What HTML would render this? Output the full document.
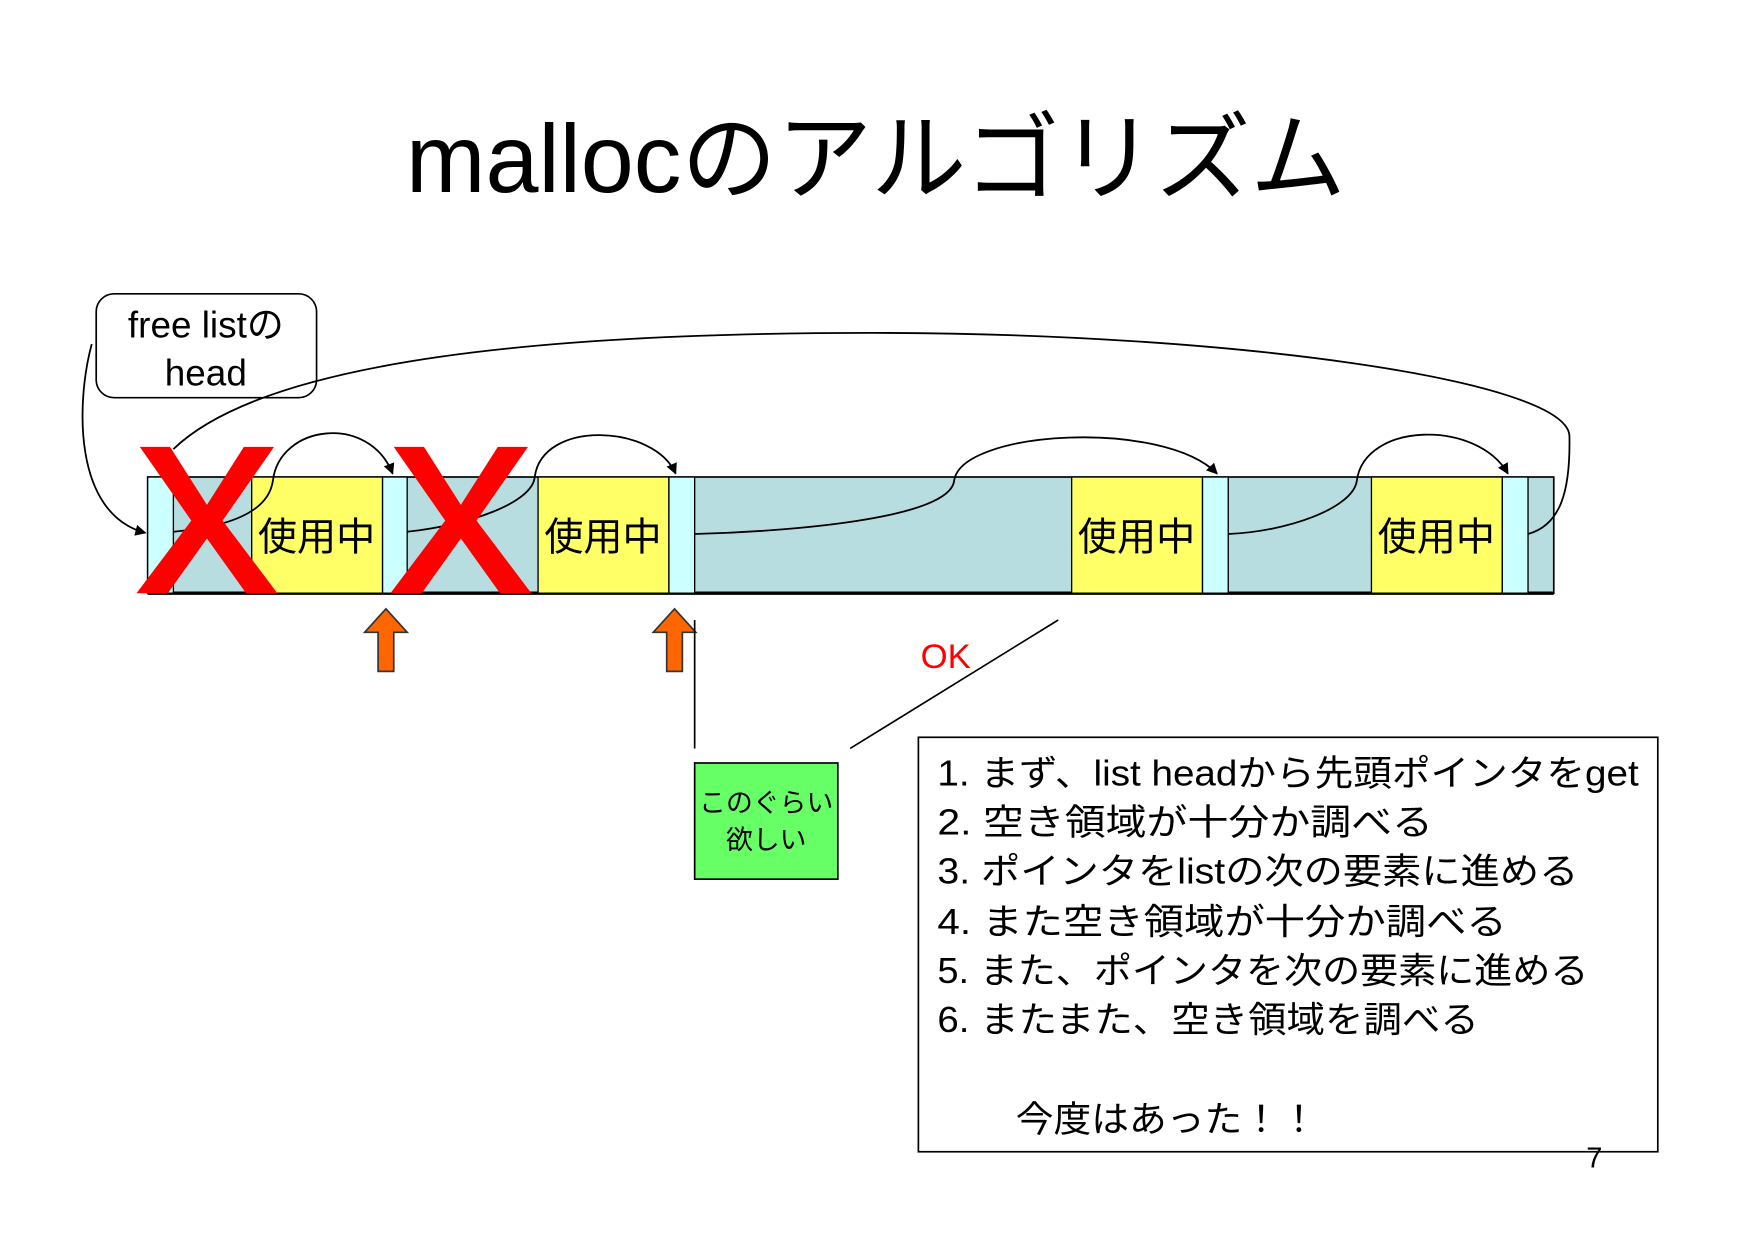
<!DOCTYPE html>
<html><head><meta charset="utf-8"><style>html,body{margin:0;padding:0;background:#fff}svg{display:block}</style></head>
<body>
<svg width="1754" height="1240" viewBox="0 0 1568 1110" preserveAspectRatio="none" xmlns="http://www.w3.org/2000/svg" font-family="'Liberation Sans','Noto Sans CJK JP',sans-serif">
<defs><marker id="ah" markerWidth="10" markerHeight="10" refX="9" refY="5" orient="auto" markerUnits="userSpaceOnUse"><path d="M0,0 L10,5 L0,10 z" fill="#000"/></marker></defs>
<text x="783" y="172" font-size="86" text-anchor="middle" textLength="840" lengthAdjust="spacingAndGlyphs">mallocのアルゴリズム</text>
<rect x="86" y="263" width="197" height="93" rx="16" fill="#fff" stroke="#000" stroke-width="1.5"/>
<text x="184" y="302" font-size="33" text-anchor="middle">free listの</text>
<text x="184" y="345" font-size="33" text-anchor="middle">head</text>
<rect x="132" y="427" width="1257" height="104" fill="#b8dde0" stroke="#000" stroke-width="1.5"/>
<line x1="132" y1="531" x2="1389" y2="531" stroke="#000" stroke-width="3"/>
<g stroke="#000" stroke-width="1.2">
<rect x="132" y="427" width="23" height="104" fill="#ccffff"/>
<rect x="225" y="427" width="117" height="104" fill="#ffff66"/>
<rect x="342" y="427" width="22" height="104" fill="#ccffff"/>
<rect x="481" y="427" width="117" height="104" fill="#ffff66"/>
<rect x="598" y="427" width="23" height="104" fill="#ccffff"/>
<rect x="958" y="427" width="117" height="104" fill="#ffff66"/>
<rect x="1075" y="427" width="23" height="104" fill="#ccffff"/>
<rect x="1226" y="427" width="117" height="104" fill="#ffff66"/>
<rect x="1343" y="427" width="23" height="104" fill="#ccffff"/>
</g>
<g font-size="35" text-anchor="middle">
<text x="283" y="493">使用中</text><text x="539" y="493">使用中</text>
<text x="1016" y="493">使用中</text><text x="1284" y="493">使用中</text>
</g>
<g fill="none" stroke="#000" stroke-width="1.6">
<path d="M82,308 C68,360 65,460 130,477" marker-end="url(#ah)"/>
<path d="M155,476 C200,472 240,460 244,430 C250,380 330,370 351,424" marker-end="url(#ah)"/>
<path d="M364,476 C420,470 476,450 478,427 C485,375 585,380 604,424" marker-end="url(#ah)"/>
<path d="M621,478 C700,476 850,465 853,430 C860,385 1040,375 1088,424" marker-end="url(#ah)"/>
<path d="M1098,478 C1150,476 1210,455 1213,430 C1220,378 1320,375 1348,424" marker-end="url(#ah)"/>
<path d="M155,402 C240,320 500,298 780,298 C1100,298 1400,340 1403,390 C1404,440 1395,470 1366,478"/>
</g>
<g fill="#ff0000">
<polygon points="125,400 152,400 185,452 218,400 245,400 199,466 248,531 220,531 185,482 150,531 122,531 171,466"/>
<polygon points="352,400 379,400 412,452 445,400 472,400 426,466 475,531 447,531 412,482 377,531 349,531 398,466"/>
</g>
<g fill="#ff6600" stroke="#333" stroke-width="1.5">
<polygon points="345,545 364,566 352,566 352,601 338,601 338,566 326,566"/>
<polygon points="603,545 622,566 610,566 610,601 596,601 596,566 584,566"/>
</g>
<line x1="621" y1="555" x2="621" y2="670" stroke="#000" stroke-width="1.5"/>
<line x1="760" y1="670" x2="946" y2="555" stroke="#000" stroke-width="1.5"/>
<text x="823" y="598" font-size="31" fill="#ff0000">OK</text>
<rect x="621" y="683" width="128" height="104" fill="#66ff66" stroke="#000" stroke-width="1.5"/>
<text x="685" y="727" font-size="24" text-anchor="middle">このぐらい</text>
<text x="685" y="760" font-size="24" text-anchor="middle">欲しい</text>
<rect x="821" y="660" width="661" height="371" fill="#fff" stroke="#000" stroke-width="1.5"/>
<g font-size="32">
<text x="838" y="703" textLength="627" lengthAdjust="spacingAndGlyphs">1. まず、list headから先頭ポインタをget</text>
<text x="838" y="747" textLength="443" lengthAdjust="spacingAndGlyphs">2. 空き領域が十分か調べる</text>
<text x="838" y="791" textLength="573" lengthAdjust="spacingAndGlyphs">3. ポインタをlistの次の要素に進める</text>
<text x="838" y="836" textLength="509" lengthAdjust="spacingAndGlyphs">4. また空き領域が十分か調べる</text>
<text x="838" y="880" textLength="582" lengthAdjust="spacingAndGlyphs">5. また、ポインタを次の要素に進める</text>
<text x="838" y="924" textLength="484" lengthAdjust="spacingAndGlyphs">6. またまた、空き領域を調べる</text>
<text x="908" y="1013" textLength="270" lengthAdjust="spacingAndGlyphs">今度はあった！！</text>
</g>
<text x="1418" y="1045" font-size="26">7</text>
</svg>
</body></html>
